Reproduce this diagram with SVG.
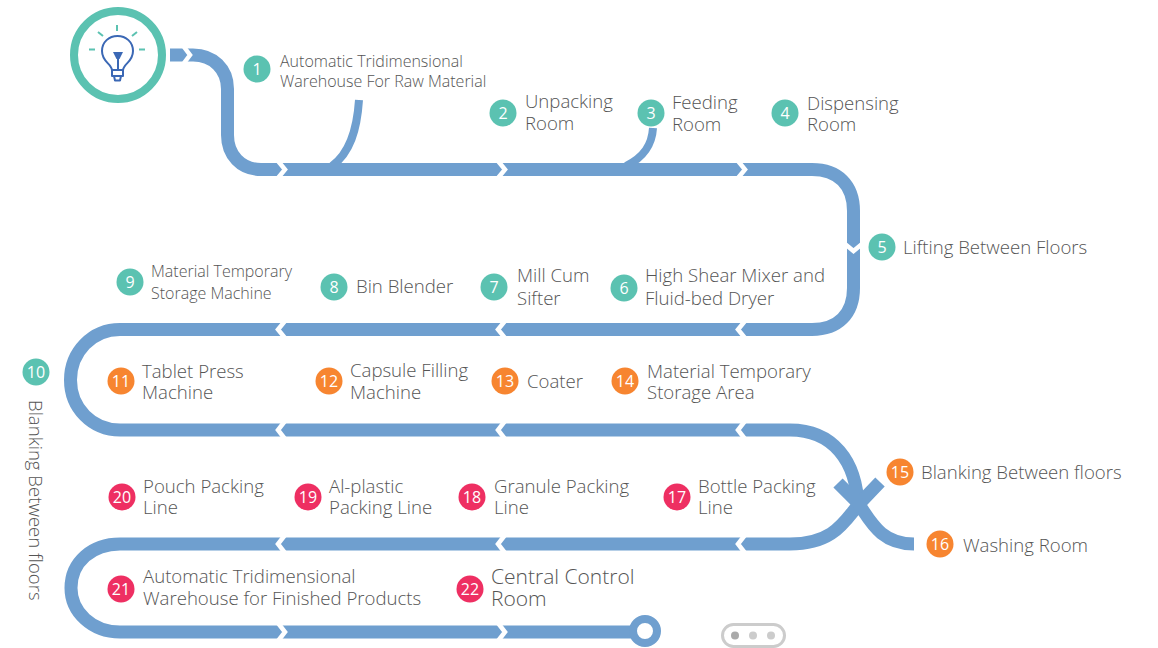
<svg xmlns="http://www.w3.org/2000/svg" width="1158" height="648" viewBox="0 0 1158 648">
<style>
text{font-family:"Open Sans","Liberation Sans",sans-serif;font-weight:300;fill:#555}
.l{font-size:18.6px}.s{font-size:16px}
.n{font-size:16px;font-weight:500;fill:#fff;text-anchor:middle}
.g{fill:#5bc2b1}.o{fill:#f78530}.r{fill:#ee2f62}
.p{fill:none;stroke:#6f9fcf;stroke-width:13}
.b{fill:none;stroke:#6f9fcf;stroke-width:8}
.c{fill:none;stroke:#fff;stroke-width:4.500}
.i{fill:none;stroke:#3b68b5;stroke-width:2;stroke-linecap:round;stroke-linejoin:round}
.t{fill:none;stroke:#5bc2b1;stroke-width:2}
</style>
<rect width="1158" height="648" fill="#fff"/>
<g id="connectors">
<path class="b" d="M359 100C357 130 350 153 332 166"/>
<path class="b" d="M653 128C652 145 644 157 626 166"/>
<path class="p" d="M170 55H193C213 55 227.500 69 227.500 89V135C227.500 155 241 169.500 261 169.500H812C838 169.500 853.500 185 853.500 211V288C853.500 314 838 329.500 812 329.500H120C92 329.500 70.500 352 70.500 380C70.500 408 92 430 120 430H790C832 430 857 460 858 508"/>
<path class="p" d="M880 482L860 503C845 520 835 544 790 544H120C92 544 71 562 71 588C71 612 92 632 120 632H640"/>
<path class="p" d="M838 483L858 503C870 520 880 544 914 544"/>
<g id="chevrons">
<path class="c" d="M184 47L190 55L184 63"/>
<path class="c" d="M278 161L285 169.500L278 178M498 161L505 169.500L498 178M738 161L745 169.500L738 178"/>
<path class="c" d="M845 244L853.500 251L862 244"/>
<path class="c" d="M285 321L278 329.500L285 338M505 321L498 329.500L505 338M745 321L738 329.500L745 338"/>
<path class="c" d="M285 421L278 430L285 439M505 421L498 430L505 439M745 421L738 430L745 439"/>
<path class="c" d="M285 535L278 544L285 553M505 535L498 544L505 553M745 535L738 544L745 553"/>
<path class="c" d="M278 623L285 632L278 641M498 623L505 632L498 641"/>
</g>
<circle cx="645" cy="631" r="12" fill="#fff" stroke="#6f9fcf" stroke-width="8"/>
</g>
<g id="start">
<circle cx="118" cy="55" r="44" fill="#fff" stroke="#5bc2b1" stroke-width="8"/>
<path class="t" d="M117 25V31M98 32L103 36M137 32L132 36M89 49.500H95M139 49.500H145"/>
<path class="i" d="M112 70C111 63 102 62 102 51C102 42 109 36 117.500 36C126 36 133 42 133 51C133 62 124 63 123 70ZM112 70V76H123V70M114 76L115 80.500H120L121 76"/>
<path d="M113 52H123L119.500 59H116.500Z" fill="#3b68b5"/>
<path class="i" d="M118 58V70"/>
</g>
<g id="n1"><circle class="g" cx="257" cy="69" r="13.500"/><text class="n" x="257" y="75">1</text><text class="s" x="280" y="67">Automatic Tridimensional</text><text class="s" x="280" y="87">Warehouse For Raw Material</text></g>
<g id="n2"><circle class="g" cx="503" cy="113" r="13.500"/><text class="n" x="503" y="119">2</text><text class="l" x="525" y="108">Unpacking</text><text class="l" x="525" y="130">Room</text></g>
<g id="n3"><circle class="g" cx="651" cy="113" r="13.500"/><text class="n" x="651" y="119">3</text><text class="l" x="672" y="109">Feeding</text><text class="l" x="672" y="131">Room</text></g>
<g id="n4"><circle class="g" cx="785" cy="113" r="13.500"/><text class="n" x="785" y="119">4</text><text class="l" x="807" y="110">Dispensing</text><text class="l" x="807" y="131">Room</text></g>
<g id="n5"><circle class="g" cx="882" cy="247" r="13.500"/><text class="n" x="882" y="253">5</text><text class="l" x="903" y="254">Lifting Between Floors</text></g>
<g id="n6"><circle class="g" cx="624" cy="288" r="13.500"/><text class="n" x="624" y="294">6</text><text class="l" x="645" y="282">High Shear Mixer and</text><text class="l" x="645" y="305">Fluid-bed Dryer</text></g>
<g id="n7"><circle class="g" cx="494" cy="287" r="13.500"/><text class="n" x="494" y="293">7</text><text class="l" x="517" y="282">Mill Cum</text><text class="l" x="517" y="305">Sifter</text></g>
<g id="n8"><circle class="g" cx="334" cy="287" r="13.500"/><text class="n" x="334" y="293">8</text><text class="l" x="356" y="293">Bin Blender</text></g>
<g id="n9"><circle class="g" cx="130" cy="282" r="13.500"/><text class="n" x="130" y="288">9</text><text class="s" x="151" y="277">Material Temporary</text><text class="s" x="151" y="299">Storage Machine</text></g>
<g id="n10"><circle class="g" cx="36" cy="372" r="13.500"/><text class="n" x="36" y="378">10</text><text class="l" transform="translate(29 400) rotate(90)">Blanking Between floors</text></g>
<g id="n11"><circle class="o" cx="121" cy="381" r="13.500"/><text class="n" x="121" y="387">11</text><text class="l" x="142" y="378">Tablet Press</text><text class="l" x="142" y="399">Machine</text></g>
<g id="n12"><circle class="o" cx="329" cy="381" r="13.500"/><text class="n" x="329" y="387">12</text><text class="l" x="350" y="377">Capsule Filling</text><text class="l" x="350" y="399">Machine</text></g>
<g id="n13"><circle class="o" cx="505" cy="381" r="13.500"/><text class="n" x="505" y="387">13</text><text class="l" x="527" y="388">Coater</text></g>
<g id="n14"><circle class="o" cx="625" cy="381" r="13.500"/><text class="n" x="625" y="387">14</text><text class="l" x="647" y="378">Material Temporary</text><text class="l" x="647" y="399">Storage Area</text></g>
<g id="n15"><circle class="o" cx="900" cy="472" r="13.500"/><text class="n" x="900" y="478">15</text><text class="l" x="921" y="479">Blanking Between floors</text></g>
<g id="n16"><circle class="o" cx="940" cy="544" r="13.500"/><text class="n" x="940" y="550">16</text><text class="l" x="963" y="552">Washing Room</text></g>
<g id="n17"><circle class="r" cx="677" cy="497" r="13.500"/><text class="n" x="677" y="503">17</text><text class="l" x="698" y="493">Bottle Packing</text><text class="l" x="698" y="514">Line</text></g>
<g id="n18"><circle class="r" cx="472" cy="497" r="13.500"/><text class="n" x="472" y="503">18</text><text class="l" x="494" y="493">Granule Packing</text><text class="l" x="494" y="514">Line</text></g>
<g id="n19"><circle class="r" cx="308" cy="497" r="13.500"/><text class="n" x="308" y="503">19</text><text class="l" x="329" y="493">Al-plastic</text><text class="l" x="329" y="514">Packing Line</text></g>
<g id="n20"><circle class="r" cx="122" cy="497" r="13.500"/><text class="n" x="122" y="503">20</text><text class="l" x="143" y="493">Pouch Packing</text><text class="l" x="143" y="514">Line</text></g>
<g id="n21"><circle class="r" cx="121" cy="589" r="13.500"/><text class="n" x="121" y="595">21</text><text class="l" x="143" y="583">Automatic Tridimensional</text><text class="l" x="143" y="605">Warehouse for Finished Products</text></g>
<g id="n22"><circle class="r" cx="470" cy="589" r="13.500"/><text class="n" x="470" y="595">22</text><text style="font-size:21px" x="491" y="584">Central Control</text><text style="font-size:21px" x="491" y="606">Room</text></g>
<g id="pager">
<rect x="722.500" y="624.500" width="62" height="22" rx="11" fill="#fff" stroke="#ccc" stroke-width="3"/>
<circle cx="735" cy="635.500" r="4" fill="#aaa"/><circle cx="753" cy="635.500" r="4" fill="#ccc"/><circle cx="771" cy="635.500" r="4" fill="#ccc"/>
</g>
</svg>
